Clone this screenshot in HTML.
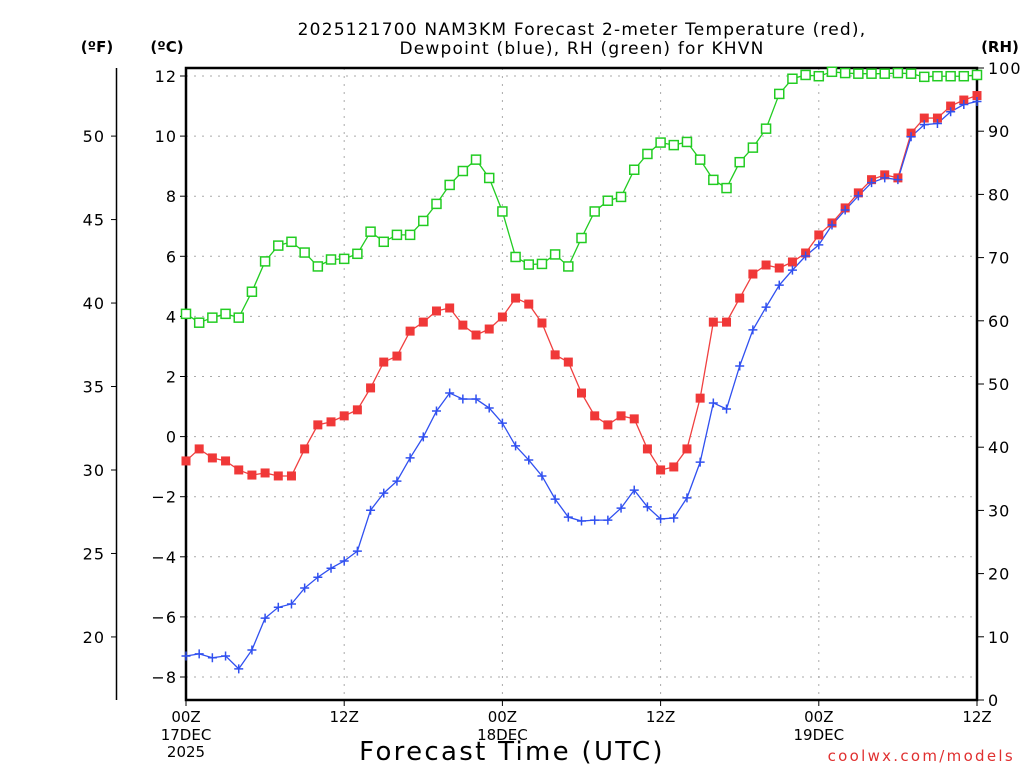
<!DOCTYPE html>
<html><head><meta charset="utf-8"><style>
body{margin:0;background:#fff}
svg{display:block;font-family:"DejaVu Sans","Liberation Sans",sans-serif}
</style></head><body>
<svg id="chart" width="1024" height="768" viewBox="0 0 1024 768" xmlns="http://www.w3.org/2000/svg">
<g id="grid"></g>
<g id="axes"></g>
<g id="series"></g>
<text x="582" y="35" text-anchor="middle" font-size="17" letter-spacing="1.2">2025121700 NAM3KM Forecast 2-meter Temperature (red),</text>
<text x="582" y="54" text-anchor="middle" font-size="17" letter-spacing="1.2">Dewpoint (blue), RH (green) for KHVN</text>
<text x="97" y="52" text-anchor="middle" font-size="15" font-weight="bold">(ºF)</text>
<text x="167" y="52" text-anchor="middle" font-size="15" font-weight="bold">(ºC)</text>
<text x="1000" y="52" text-anchor="middle" font-size="15" font-weight="bold">(RH)</text>
<text x="512" y="760" text-anchor="middle" font-size="26" letter-spacing="2.3">Forecast Time (UTC)</text>
<text x="1015" y="761" text-anchor="end" font-size="15" fill="#e03030" letter-spacing="2.3">coolwx.com/models</text>
</svg>
<script>
const hours=[];for(let h=0;h<=60;h++)hours.push(h);
const tempC=[-0.81,-0.41,-0.71,-0.81,-1.11,-1.28,-1.21,-1.31,-1.31,-0.41,0.39,0.49,0.69,0.89,1.62,2.48,2.68,3.51,3.81,4.18,4.28,3.71,3.38,3.58,3.98,4.61,4.41,3.78,2.72,2.48,1.45,0.69,0.39,0.69,0.59,-0.41,-1.11,-1.01,-0.41,1.28,3.81,3.81,4.61,5.41,5.71,5.61,5.81,6.11,6.71,7.11,7.61,8.11,8.55,8.71,8.61,10.1,10.6,10.6,11.0,11.2,11.35];
const dewC=[-7.30,-7.23,-7.36,-7.30,-7.73,-7.10,-6.04,-5.68,-5.57,-5.04,-4.68,-4.38,-4.14,-3.81,-2.45,-1.88,-1.48,-0.71,-0.01,0.85,1.45,1.25,1.25,0.95,0.45,-0.31,-0.78,-1.31,-2.08,-2.68,-2.81,-2.78,-2.78,-2.38,-1.78,-2.34,-2.74,-2.71,-2.04,-0.85,1.12,0.92,2.35,3.55,4.31,5.04,5.54,6.01,6.38,7.04,7.54,8.01,8.45,8.61,8.55,9.98,10.38,10.42,10.81,11.05,11.15];
const rh=[61.1,59.7,60.5,61.1,60.5,64.6,69.4,71.9,72.5,70.8,68.6,69.7,69.8,70.6,74.1,72.5,73.6,73.6,75.8,78.5,81.5,83.7,85.5,82.6,77.3,70.1,68.9,69.0,70.5,68.6,73.1,77.3,79.0,79.6,83.9,86.4,88.2,87.8,88.3,85.5,82.3,81.0,85.1,87.4,90.4,95.9,98.3,98.9,98.7,99.4,99.2,99.1,99.1,99.1,99.2,99.1,98.6,98.7,98.7,98.7,98.9];
const cTicks=[12,10,8,6,4,2,0,-2,-4,-6,-8];
const fTicks=[50,45,40,35,30,25,20];
const rhTicks=[100,90,80,70,60,50,40,30,20,10,0];
const xTicks=[0,12,24,36,48,60];
const xLab1=["00Z","12Z","00Z","12Z","00Z","12Z"];
const xLab2=["17DEC","","18DEC","","19DEC",""];
const xLab3=["2025","","","","",""];

const L=186,R=977,T=68,B=700;
const x=h=>L+(R-L)*h/60;
const yC=c=>436.6-c*30.05;
const yF=f=>yC((f-32)*5/9);
const yR=r=>B-(B-T)*r/100;
const NS="http://www.w3.org/2000/svg";
function mk(tag,attrs,parent,txt){const e=document.createElementNS(NS,tag);for(const k in attrs)e.setAttribute(k,attrs[k]);if(txt!==undefined)e.textContent=txt;parent.appendChild(e);return e;}
const grid=document.getElementById('grid'),axes=document.getElementById('axes'),ser=document.getElementById('series');
cTicks.forEach(c=>{
 const g=mk('line',{x1:L,x2:R,y1:yC(c),y2:yC(c),stroke:'#aaa','stroke-dasharray':'2,6'},grid);
 
 
 const t=mk('line',{x1:L-6,x2:L,y1:yC(c),y2:yC(c),stroke:'#000'},axes);
 
 
 const l=mk('text',{x:L-9,y:yC(c)+6,'text-anchor':'end','font-size':'16','letter-spacing':'1'},axes,c<0?'\u2212'+(-c):String(c));
 
 
});
xTicks.forEach((h,i)=>{
 if(i>0&&i<xTicks.length-1){const g=mk('line',{x1:x(h),x2:x(h),y1:T,y2:B,stroke:'#aaa','stroke-dasharray':'2,6'},grid);
 
 }
 const t=mk('line',{x1:x(h),x2:x(h),y1:B,y2:B+6,stroke:'#000'},axes);
 
 
 const a=mk('text',{x:x(h),y:722,'text-anchor':'middle','font-size':'15'},axes,xLab1[i]);
 
 
 if(xLab2[i]){const b=mk('text',{x:x(h),y:740,'text-anchor':'middle','font-size':'15'},axes,xLab2[i]);
 
 }
 if(xLab3[i]){const c=mk('text',{x:x(h),y:757,'text-anchor':'middle','font-size':'15'},axes,xLab3[i]);
 
 }
});
const fl=mk('line',{x1:116.5,x2:116.5,y1:T,y2:B,stroke:'#000','stroke-width':1.5},axes);


fTicks.forEach(f=>{
 const t=mk('line',{x1:111,x2:117,y1:yF(f),y2:yF(f),stroke:'#000'},axes);
 
 
 const l=mk('text',{x:105,y:yF(f)+6,'text-anchor':'end','font-size':'16','letter-spacing':'1'},axes,String(f));
 
 
});
rhTicks.forEach(r=>{
 const t=mk('line',{x1:R,x2:R+7,y1:yR(r),y2:yR(r),stroke:'#000'},axes);
 
 
 const l=mk('text',{x:R+11,y:yR(r)+6,'font-size':'16','letter-spacing':'1'},axes,String(r));
 
 
});
const fr=mk('rect',{x:L,y:T,width:R-L,height:B-T,fill:'none',stroke:'#000','stroke-width':2.5},axes);



function line(vals,yf,col,name){
 const p=mk('polyline',{points:vals.map((v,i)=>x(hours[i])+','+yf(v)).join(' '),fill:'none',stroke:col,'stroke-width':1.3},ser);
 
 
}
line(rh,yR,'#22cc22','rh-line');
line(tempC,yC,'#f04040','temperature-line');
line(dewC,yC,'#3050f0','dewpoint-line');
rh.forEach((v,i)=>{const m=mk('rect',{x:x(hours[i])-4.5,y:yR(v)-4.5,width:9,height:9,fill:'#fff',stroke:'#22cc22','stroke-width':1.5},ser);
 
 });
tempC.forEach((v,i)=>{const m=mk('rect',{x:x(hours[i])-4.5,y:yC(v)-4.5,width:9,height:9,fill:'#f03838'},ser);
 
 });
dewC.forEach((v,i)=>{const cx=x(hours[i]),cy=yC(v);const m=mk('path',{d:`M${cx-4.5},${cy}H${cx+4.5}M${cx},${cy-4.5}V${cy+4.5}`,stroke:'#3050f0','stroke-width':1.5},ser);
 
 });
</script>
</body></html>
